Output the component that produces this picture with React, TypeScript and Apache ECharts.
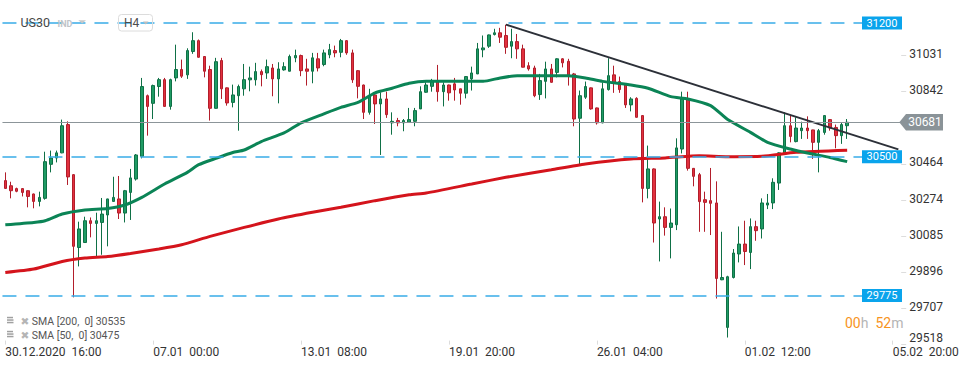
import React, { useEffect, useRef } from 'react';
import * as echarts from 'echarts';

// [open, close, low, high] per H4 bar, starting 30.12.2020 16:00
const candles: number[][] = [
  [30376, 30335, 30332, 30419], [30349, 30323, 30283, 30370], [30334, 30320, 30315, 30339], [30334, 30314, 30293, 30337],
  [30323, 30293, 30236, 30325], [30306, 30267, 30231, 30308], [30267, 30288, 30241, 30318], [30283, 30475, 30276, 30527],
  [30461, 30494, 30419, 30533], [30494, 30521, 30471, 30533], [30521, 30663, 30519, 30695], [30669, 30395, 30353, 30686],
  [30407, 30032, 29765, 30410], [30026, 30123, 29927, 30161], [30052, 30166, 30050, 30187], [30166, 30152, 30079, 30183],
  [30152, 30166, 29979, 30208], [30157, 30201, 29988, 30285], [30196, 30280, 30032, 30281], [30267, 30288, 30266, 30396],
  [30280, 30206, 30175, 30400], [30206, 30323, 30157, 30327], [30314, 30390, 30170, 30437], [30384, 30510, 30376, 30515],
  [30503, 30868, 30492, 30913], [30820, 30764, 30611, 30826], [30780, 30873, 30698, 30878], [30868, 30904, 30815, 30913],
  [30904, 30764, 30763, 30913], [30764, 30904, 30747, 30909], [30913, 30957, 30895, 31087], [30957, 30922, 30913, 31009],
  [30929, 31056, 30908, 31068], [31051, 31108, 31039, 31152], [31108, 31021, 31019, 31114], [31025, 30948, 30916, 31027],
  [30957, 30754, 30690, 30977], [30754, 30998, 30752, 31018], [31004, 30856, 30803, 31018], [30861, 30782, 30768, 30863],
  [30785, 30824, 30759, 30878], [30820, 30868, 30637, 30878], [30856, 30904, 30820, 30986], [30903, 30913, 30843, 30972],
  [30903, 30946, 30873, 30992], [30946, 30930, 30869, 30957], [30939, 30972, 30908, 31009], [30965, 30908, 30817, 30986],
  [30908, 30960, 30780, 30995], [30955, 30972, 30951, 30995], [30948, 31025, 30947, 31035], [31018, 31030, 30995, 31061],
  [31030, 30951, 30922, 31035], [30960, 30948, 30873, 31013], [30948, 31018, 30885, 31044], [31013, 30965, 30947, 31044],
  [30983, 31044, 30974, 31061], [31034, 31061, 31016, 31091], [31056, 31044, 31021, 31082], [31047, 31108, 31021, 31117],
  [31108, 31044, 31034, 31111], [31044, 30903, 30887, 31061], [30951, 30869, 30806, 30954], [30876, 30733, 30698, 30878],
  [30733, 30820, 30721, 30856], [30824, 30777, 30672, 30835], [30777, 30803, 30510, 30838], [30803, 30721, 30704, 30841],
  [30678, 30686, 30616, 30733], [30690, 30678, 30660, 30704], [30678, 30690, 30634, 30698], [30681, 30695, 30678, 30756],
  [30686, 30742, 30660, 30756], [30751, 30841, 30750, 30869], [30838, 30876, 30835, 30890], [30869, 30894, 30841, 30908],
  [30899, 30841, 30789, 30981], [30841, 30876, 30764, 30890], [30876, 30835, 30794, 30878], [30882, 30850, 30794, 30913],
  [30856, 30833, 30773, 30857], [30833, 30920, 30806, 30923], [30908, 30939, 30847, 30972], [30934, 31065, 30933, 31096],
  [31060, 31070, 31021, 31135], [31079, 31138, 31070, 31140], [31140, 31149, 31135, 31170], [31149, 31126, 31096, 31175],
  [31135, 31073, 31039, 31191], [31079, 31103, 31016, 31170], [31103, 31065, 31013, 31143], [31065, 30969, 30968, 31087],
  [30977, 30960, 30951, 30995], [30965, 30820, 30812, 30977], [30826, 30899, 30798, 30934], [30895, 30960, 30806, 30998],
  [30960, 30890, 30888, 30986], [30942, 31013, 30916, 31016], [31013, 30992, 30968, 31016], [31000, 30925, 30873, 31013],
  [30934, 30698, 30660, 30939], [30702, 30820, 30459, 30847], [30812, 30868, 30803, 30894], [30861, 30751, 30747, 30863],
  [30756, 30678, 30669, 30758], [30678, 30856, 30676, 30890], [30852, 30925, 30847, 31016], [30929, 30887, 30835, 30977],
  [30894, 30852, 30835, 30920], [30876, 30772, 30756, 30878], [30772, 30803, 30738, 30812], [30806, 30707, 30705, 30812],
  [30716, 30335, 30262, 30718], [30335, 30437, 30283, 30559], [30437, 30154, 30052, 30440], [30175, 30187, 29953, 30266],
  [30187, 30131, 30088, 30236], [30131, 30154, 29969, 30230], [30145, 30547, 30117, 30597], [30541, 30803, 30518, 30841],
  [30803, 30440, 30428, 30841], [30440, 30398, 30346, 30441], [30407, 30266, 30108, 30416], [30276, 30262, 30108, 30318],
  [30271, 30257, 30091, 30442], [30259, 29864, 29759, 30372], [29857, 29869, 29855, 30108], [29608, 29873, 29555, 29878],
  [29869, 29997, 29864, 30018], [29992, 30044, 29948, 30136], [30044, 30005, 29934, 30166], [30000, 30135, 29913, 30178],
  [30135, 30114, 30061, 30166], [30123, 30259, 30073, 30283], [30248, 30259, 30227, 30306], [30259, 30367, 30227, 30388],
  [30363, 30521, 30327, 30524], [30521, 30663, 30519, 30733], [30663, 30607, 30576, 30716], [30580, 30651, 30576, 30707],
  [30637, 30651, 30594, 30684], [30651, 30637, 30594, 30712], [30641, 30576, 30489, 30642], [30576, 30637, 30419, 30646],
  [30628, 30716, 30616, 30719], [30695, 30651, 30637, 30698], [30654, 30611, 30545, 30669], [30611, 30669, 30568, 30678],
  [30663, 30681, 30594, 30698],
];

// [bar index, value]
const sma50: number[][] = [
  [0, 30145], [5, 30157], [7, 30166], [10, 30201], [14, 30222], [18, 30230], [21, 30248], [24, 30288], [28, 30358],
  [32, 30419], [34, 30459], [37, 30492], [40, 30523], [42, 30536], [45, 30580], [49, 30625], [52, 30678], [56, 30725],
  [59, 30759], [62, 30785], [65, 30835], [68, 30859], [71, 30885], [74, 30895], [80, 30895], [84, 30895], [87, 30913],
  [90, 30925], [99, 30925], [102, 30913], [105, 30895], [110, 30876], [113, 30859], [117, 30815], [120, 30803],
  [124, 30768], [127, 30695], [131, 30628], [134, 30576], [138, 30541], [141, 30520], [145, 30497], [148, 30475],
];
const sma200: number[][] = [
  [0, 29895], [5, 29913], [10, 29953], [14, 29971], [18, 29979], [22, 29995], [27, 30018], [31, 30040], [36, 30084],
  [42, 30131], [48, 30175], [54, 30210], [59, 30236], [65, 30271], [71, 30302], [74, 30311], [82, 30358], [88, 30393],
  [96, 30433], [102, 30463], [110, 30489], [116, 30494], [122, 30506], [127, 30501], [133, 30503], [139, 30524], [148, 30535],
];
const trendLine: number[][] = [[88, 31192], [157, 30539]];

const slotCount = 158;
const xTickIndex = [0, 26, 52, 78, 104, 130, 156];
const xTickText = ['30.12.2020  16:00', '07.01  00:00', '13.01  08:00', '19.01  20:00', '26.01  04:00', '01.02  12:00', '05.02  20:00'];
const yTickValues = [29518, 29707, 29896, 30085, 30274, 30464, 30842, 31031];
const yMin = 29518;
const yMax = 31216;
const levelValues = [31200, 30500, 29775];
const lastPrice = 30681;
const legendRows = ['SMA [200,  0] 30535', 'SMA [50,  0] 30475'];

export default function App() {
  const ref = useRef<HTMLDivElement>(null);
  useEffect(() => {
    const chart = echarts.init(ref.current!, null, { renderer: 'svg' });
    const categories = Array.from({ length: slotCount }, (_, i) => String(i));
    const tickMap = new Map<number, string>(xTickIndex.map((k, j) => [k, xTickText[j]]));
    chart.setOption({
      animation: false,
      textStyle: { fontFamily: 'Roboto' },
      grid: { left: 2.456, right: 68.8, top: 20, bottom: 23.4 },
      xAxis: {
        type: 'category',
        data: categories,
        boundaryGap: true,
        axisLine: { show: false },
        axisTick: {
          show: true, alignWithLabel: true, inside: true, length: 4,
          interval: (i: number) => tickMap.has(i),
          lineStyle: { color: '#dcdcdc' },
        },
        axisLabel: {
          interval: (i: number) => tickMap.has(i),
          formatter: (_v: string, i: number) => tickMap.get(i) ?? '',
          align: 'left', color: '#333', fontSize: 12, margin: 1, fontFamily: 'Roboto',
        },
        splitLine: { show: false },
      },
      yAxis: {
        type: 'value', position: 'right', min: yMin, max: yMax,
        axisLine: { show: false },
        axisTick: { show: true, customValues: yTickValues, length: 5, lineStyle: { color: '#dddddd' } },
        axisLabel: {
          customValues: yTickValues, margin: 8, color: '#333', fontSize: 12, fontFamily: 'Roboto',
          formatter: (v: number) => (Math.round(v) === yMin ? `{lo|${Math.round(v)}}` : `{n|${Math.round(v)}}`),
          rich: {
            lo: { padding: [0, 0, 14, 0], fontSize: 12, color: '#333', fontFamily: 'Roboto' },
            n: { padding: [0, 0, 3, 0], fontSize: 12, color: '#333', fontFamily: 'Roboto' },
          },
        },
        splitLine: { show: false },
      },
      series: [
        {
          type: 'line', data: [], z: 1, silent: true,
          markLine: {
            symbol: ['none', 'none'], silent: true, label: { show: false },
            data: [
              ...levelValues.map((v) => ({ yAxis: v, lineStyle: { color: '#38ace8', type: [14, 9], width: 1.5 } })),
              { yAxis: lastPrice, lineStyle: { color: '#8c9599', type: 'solid', width: 1 } },
            ],
          },
        },
        {
          type: 'candlestick', data: candles, z: 2, barWidth: 3,
          itemStyle: { color: '#1f9b64', color0: '#e2303e', borderColor: '#0f7046', borderColor0: '#b21e2b', borderWidth: 1 },
        },
        {
          type: 'line', data: sma200, z: 3, showSymbol: false, smooth: 0.2,
          lineStyle: { color: '#d4141c', width: 3 },
        },
        {
          type: 'line', data: sma50, z: 3, showSymbol: false, smooth: 0.2,
          lineStyle: { color: '#0b8456', width: 3 },
        },
        {
          type: 'line', data: trendLine, z: 4, showSymbol: false,
          lineStyle: { color: '#2c3038', width: 2 },
        },
      ],
    });

    const py = (v: number) => chart.convertToPixel({ yAxisIndex: 0 }, v) as number;
    const g: any[] = [];
    levelValues.forEach((v) => {
      const y = py(v);
      g.push({ type: 'rect', shape: { x: 862, y: y - 6.5, width: 40, height: 13 }, style: { fill: '#0aa4ec' }, z: 10 });
      g.push({ type: 'text', x: 882, y, style: { text: String(v), fill: '#fff', fontSize: 11, fontFamily: 'Roboto', align: 'center', verticalAlign: 'middle' }, z: 11 });
    });
    const yp = py(lastPrice);
    g.push({ type: 'polygon', shape: { points: [[899.3, yp], [906, yp - 8.3], [943, yp - 8.3], [943, yp + 8.3], [906, yp + 8.3]] }, style: { fill: '#8a9398' }, z: 10 });
    g.push({ type: 'text', x: 925, y: yp, style: { text: String(lastPrice), fill: '#fff', fontSize: 12, fontFamily: 'Roboto', align: 'center', verticalAlign: 'middle' }, z: 11 });
    // timer
    g.push({
      type: 'text', x: 845, y: 323, z: 11,
      style: {
        text: '{o|00}{g|h}  {o|52}{g|m}', verticalAlign: 'middle', fontSize: 14, fontFamily: 'Roboto',
        rich: { o: { fill: '#f7941d', fontSize: 14, fontFamily: 'Roboto' }, g: { fill: '#b5b5b5', fontSize: 14, fontFamily: 'Roboto' } },
      },
    });
    // top-left instrument
    g.push({ type: 'text', x: 20.5, y: 22.7, style: { text: 'US30', fill: '#474747', fontSize: 12.5, fontFamily: 'Roboto', verticalAlign: 'middle' }, z: 11 });
    g.push({ type: 'text', x: 57.5, y: 23.5, style: { text: 'IND', fill: '#bfc4c8', fontSize: 9, fontWeight: 'bold', fontFamily: 'Roboto', verticalAlign: 'middle' }, z: 11 });
    g.push({ type: 'polygon', shape: { points: [[78.3, 20.2], [86, 20.2], [82.15, 23.6]] }, style: { fill: '#c8c8c8' }, z: 11 });
    g.push({ type: 'rect', shape: { x: 118.5, y: 14.5, width: 34, height: 16.5, r: 3 }, style: { fill: 'none', stroke: '#dcdcdc', lineWidth: 1 }, z: 11 });
    g.push({ type: 'text', x: 124, y: 23, style: { text: 'H4', fill: '#4d4d4d', fontSize: 12, fontFamily: 'Roboto', verticalAlign: 'middle' }, z: 11 });
    g.push({ type: 'polygon', shape: { points: [[143, 21.5], [148.5, 21.5], [145.75, 24.5]] }, style: { fill: '#bdbdbd' }, z: 11 });
    // legend rows
    legendRows.forEach((t, k) => {
      const y = 320.5 + k * 14;
      [-3, -0.5, 2].forEach((dy, m) => {
        g.push({ type: 'rect', shape: { x: 7, y: y + dy - 0.7, width: m === 0 ? 6 : 6.5, height: 1.5 }, style: { fill: '#a0a0a0' }, z: 11 });
      });
      g.push({ type: 'text', x: 20.5, y, style: { text: '✖', fill: '#b5b5b5', fontSize: 10.5, fontFamily: 'DejaVu Sans', verticalAlign: 'middle' }, z: 11 });
      g.push({ type: 'text', x: 31.7, y: y + 0.5, style: { text: t, fill: '#555', fontSize: 10.5, fontFamily: 'Roboto', verticalAlign: 'middle' }, z: 11 });
    });
    chart.setOption({ graphic: g });
    return () => chart.dispose();
  }, []);
  return <div ref={ref} style={{ position: 'absolute', left: 0, top: 0, width: 970, height: 368 }} />;
}
